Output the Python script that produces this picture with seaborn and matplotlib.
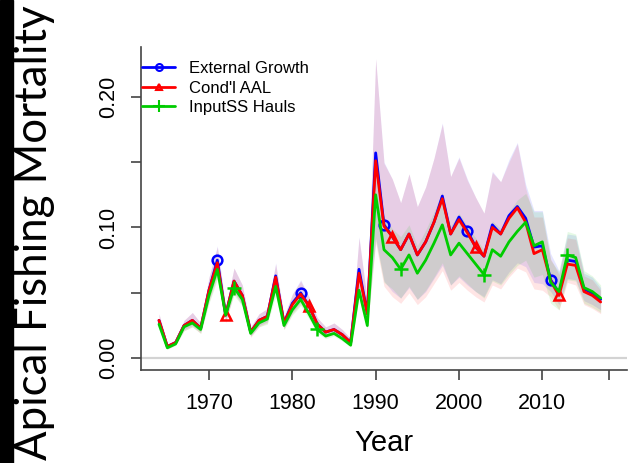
"""Apical fishing mortality by model run, with CI bands."""

import matplotlib

matplotlib.use("Agg")

import matplotlib.pyplot as plt
import numpy as np
import pandas as pd
import seaborn as sns
from matplotlib.lines import Line2D
from matplotlib.patches import Rectangle

# ---- data ----
years = list(range(1964, 2018))

ext_growth = [
    0.029, 0.009, 0.012, 0.025, 0.029, 0.023, 0.052, 0.075, 0.033, 0.059,
    0.048, 0.020, 0.029, 0.032, 0.063, 0.027, 0.042, 0.050, 0.040, 0.026,
    0.020, 0.022, 0.018, 0.012, 0.068, 0.034, 0.157, 0.102, 0.093, 0.083,
    0.095, 0.079, 0.089, 0.104, 0.124, 0.095, 0.108, 0.0975, 0.085, 0.078,
    0.102, 0.095, 0.109, 0.116, 0.107, 0.085, 0.086, 0.060, 0.050, 0.075,
    0.074, 0.053, 0.050, 0.045,
]
cond_aal = [
    0.029, 0.009, 0.012, 0.025, 0.029, 0.023, 0.052, 0.073, 0.033, 0.059,
    0.048, 0.020, 0.029, 0.032, 0.062, 0.027, 0.041, 0.049, 0.040, 0.026,
    0.020, 0.022, 0.018, 0.012, 0.065, 0.034, 0.151, 0.101, 0.093, 0.083,
    0.095, 0.079, 0.089, 0.104, 0.122, 0.095, 0.106, 0.096, 0.085, 0.078,
    0.100, 0.095, 0.107, 0.115, 0.104, 0.080, 0.083, 0.059, 0.048, 0.072,
    0.071, 0.051, 0.048, 0.043,
]
inputss_hauls = [
    0.026, 0.008, 0.011, 0.024, 0.027, 0.022, 0.048, 0.068, 0.033, 0.054,
    0.045, 0.019, 0.027, 0.030, 0.055, 0.025, 0.037, 0.045, 0.034, 0.022,
    0.017, 0.019, 0.015, 0.010, 0.052, 0.025, 0.125, 0.083, 0.077, 0.068,
    0.079, 0.065, 0.075, 0.088, 0.102, 0.079, 0.088, 0.080, 0.072, 0.064,
    0.083, 0.078, 0.089, 0.097, 0.104, 0.086, 0.089, 0.058, 0.051, 0.079,
    0.077, 0.054, 0.051, 0.046,
]

# confidence bands
aal_hi = [
    0.034, 0.011, 0.014, 0.029, 0.035, 0.027, 0.062, 0.085, 0.039, 0.069,
    0.056, 0.024, 0.034, 0.038, 0.072, 0.032, 0.049, 0.059, 0.047, 0.031,
    0.024, 0.027, 0.022, 0.015, 0.092, 0.044, 0.229, 0.149, 0.137, 0.119,
    0.141, 0.116, 0.131, 0.153, 0.179, 0.139, 0.153, 0.136, 0.123, 0.111,
    0.142, 0.135, 0.150, 0.164, 0.130, 0.108, 0.108, 0.076, 0.064, 0.092,
    0.091, 0.063, 0.060, 0.052,
]
aal_lo = [
    0.025, 0.007, 0.010, 0.021, 0.024, 0.019, 0.043, 0.062, 0.027, 0.050,
    0.040, 0.016, 0.024, 0.027, 0.052, 0.022, 0.034, 0.041, 0.033, 0.021,
    0.016, 0.018, 0.015, 0.009, 0.048, 0.024, 0.088, 0.055, 0.047, 0.042,
    0.050, 0.041, 0.047, 0.057, 0.067, 0.052, 0.058, 0.052, 0.047, 0.043,
    0.056, 0.053, 0.062, 0.069, 0.066, 0.053, 0.052, 0.047, 0.037, 0.058,
    0.056, 0.041, 0.038, 0.034,
]
ext_hi = [
    0.034, 0.011, 0.014, 0.029, 0.035, 0.027, 0.062, 0.086, 0.039, 0.069,
    0.056, 0.024, 0.034, 0.038, 0.073, 0.032, 0.049, 0.060, 0.047, 0.031,
    0.024, 0.027, 0.022, 0.015, 0.093, 0.044, 0.229, 0.150, 0.137, 0.119,
    0.141, 0.116, 0.131, 0.153, 0.180, 0.139, 0.154, 0.137, 0.123, 0.111,
    0.143, 0.135, 0.152, 0.165, 0.133, 0.113, 0.113, 0.080, 0.067, 0.095,
    0.094, 0.065, 0.062, 0.054,
]
ext_lo = [
    0.026, 0.008, 0.011, 0.022, 0.025, 0.020, 0.045, 0.064, 0.028, 0.051,
    0.041, 0.017, 0.025, 0.028, 0.054, 0.023, 0.035, 0.043, 0.034, 0.022,
    0.017, 0.019, 0.016, 0.010, 0.051, 0.026, 0.092, 0.059, 0.051, 0.046,
    0.054, 0.045, 0.051, 0.061, 0.071, 0.056, 0.062, 0.056, 0.051, 0.047,
    0.060, 0.057, 0.066, 0.073, 0.070, 0.058, 0.057, 0.051, 0.041, 0.061,
    0.060, 0.044, 0.041, 0.037,
]
hauls_hi = [
    0.029, 0.009, 0.012, 0.027, 0.030, 0.025, 0.054, 0.076, 0.037, 0.061,
    0.050, 0.021, 0.030, 0.034, 0.062, 0.028, 0.042, 0.050, 0.038, 0.025,
    0.019, 0.021, 0.017, 0.011, 0.059, 0.028, 0.160, 0.108, 0.099, 0.093,
    0.102, 0.086, 0.098, 0.112, 0.127, 0.101, 0.111, 0.101, 0.092, 0.083,
    0.105, 0.099, 0.112, 0.121, 0.126, 0.112, 0.112, 0.075, 0.066, 0.097,
    0.095, 0.067, 0.063, 0.056,
]
hauls_lo = [
    0.023, 0.007, 0.010, 0.021, 0.024, 0.019, 0.042, 0.060, 0.029, 0.048,
    0.040, 0.017, 0.024, 0.026, 0.048, 0.022, 0.033, 0.040, 0.030, 0.019,
    0.015, 0.017, 0.013, 0.009, 0.046, 0.022, 0.090, 0.058, 0.053, 0.046,
    0.055, 0.045, 0.052, 0.062, 0.073, 0.056, 0.063, 0.057, 0.051, 0.046,
    0.059, 0.056, 0.064, 0.071, 0.075, 0.062, 0.064, 0.042, 0.037, 0.060,
    0.059, 0.042, 0.039, 0.035,
]

x_ticks = [1970, 1980, 1990, 2000, 2010, 2018]
x_ticklabels = ["1970", "1980", "1990", "2000", "2010", ""]
y_ticks = [0.0, 0.05, 0.10, 0.15, 0.20]
y_ticklabels = ["0.00", "", "0.10", "", "0.20"]

# one row per series: name, values, band, colour, marker, first marked year
series = [
    ("External Growth", ext_growth, ext_lo, ext_hi, "#0000FF", "o", 1971),
    ("Cond'l AAL", cond_aal, aal_lo, aal_hi, "#FF0000", "^", 1972),
    ("InputSS Hauls", inputss_hauls, hauls_lo, hauls_hi, "#00CC00", "+", 1973),
]

sns.set_style("white")
plt.rcParams["font.family"] = ["Liberation Sans", "DejaVu Sans"]
plt.rcParams["text.color"] = "black"
plt.rcParams["xtick.color"] = "black"
plt.rcParams["ytick.color"] = "black"
plt.rcParams["axes.labelcolor"] = "black"

fig = plt.figure(figsize=(6.28, 4.63), dpi=100)
ax = fig.add_axes([141 / 628, 1 - 370.3 / 463, 486 / 628, 323.6 / 463])

ax.axhline(0, color="#D3D3D3", lw=1.6, zorder=0)

for name, vals, lo, hi, col, _, _ in series:
    ax.fill_between(years, lo, hi, color=col, alpha=0.1, lw=0)

handles = []
for name, vals, lo, hi, col, mk, first in series:
    df = pd.DataFrame({"Year": years, "F": vals})
    mark_idx = [i for i, y in enumerate(years) if (y - first) % 10 == 0]
    msize = 10 if mk == "+" else 7
    sns.lineplot(
        data=df, x="Year", y="F", ax=ax, color=col, lw=2.0,
        marker=mk, markevery=mark_idx, markersize=msize,
        markerfacecolor="none", markeredgecolor=col, markeredgewidth=1.8,
    )
    handles.append(
        Line2D([], [], color=col, lw=2.0, marker=mk, markersize=5 if mk != "+" else 8,
               markerfacecolor="none", markeredgecolor=col, markeredgewidth=1.5,
               label=name)
    )

ax.set_xlim(1961.84, 2020.16)
ax.set_ylim(-0.0092, 0.2382)

ax.set_xticks(x_ticks)
ax.set_xticklabels(x_ticklabels, fontsize=15.5)
ax.set_yticks(y_ticks)
ax.set_yticklabels(y_ticklabels, fontsize=15.5, rotation=90, va="center")
ax.tick_params(axis="both", direction="out", length=7, width=1.2,
               color="#444444", labelcolor="black", pad=9,
               left=True, bottom=True)

for side in ("top", "right"):
    ax.spines[side].set_visible(False)
for side in ("left", "bottom"):
    ax.spines[side].set_color("#444444")
    ax.spines[side].set_linewidth(1.2)

ax.set_xlabel("Year", fontsize=21, labelpad=11, color="black")
ax.set_ylabel("")

fig.legend(
    handles=handles, loc="upper left", bbox_to_anchor=(142 / 628, 1 - 61 / 463),
    frameon=False, fontsize=12, handlelength=2.0, handletextpad=0.8,
    labelspacing=0.28, borderpad=0, borderaxespad=0,
)

# pasted y label with black strip at the left edge
fig.patches.append(Rectangle((0, 0), 13 / 628, 1, transform=fig.transFigure,
                             color="black", zorder=0))
fig.text(35 / 628, 1 - 233 / 463, "Apical Fishing Mortality", rotation=90,
         ha="center", va="center", fontsize=31.5, family=["Lato", "DejaVu Sans"])

fig.savefig("out.png", dpi=100)
